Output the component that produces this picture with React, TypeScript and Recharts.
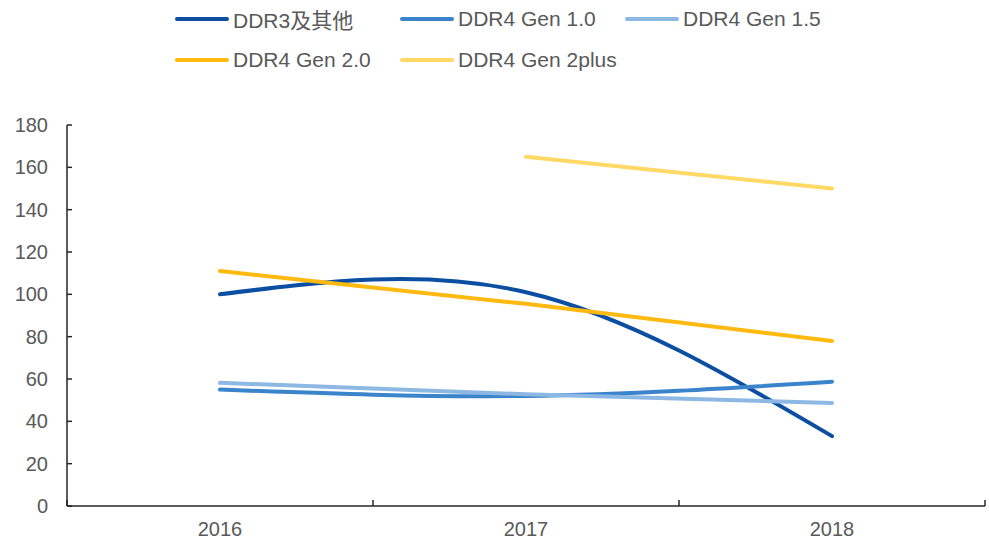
// DRAM price trend by generation - line chart

import { LineChart, Line, XAxis, YAxis } from 'recharts'

const years = ['2016', '2017', '2018']
const ddr3 = [100, 101, 33]
const ddr4Gen10 = [55, 52, 58.7]
const ddr4Gen15 = [58.2, 52.8, 48.7]
const ddr4Gen20 = [111, 95.5, 78]
const ddr4Gen2plus = [null, 165, 150]
const yTicks = [0, 20, 40, 60, 80, 100, 120, 140, 160, 180]

const series = [
  { key: 'ddr3', name: 'DDR3及其他', color: '#0b4ea2', values: ddr3 },
  { key: 'gen10', name: 'DDR4 Gen 1.0', color: '#3a84cc', values: ddr4Gen10 },
  { key: 'gen15', name: 'DDR4 Gen 1.5', color: '#8db8e4', values: ddr4Gen15 },
  { key: 'gen20', name: 'DDR4 Gen 2.0', color: '#ffb90f', values: ddr4Gen20 },
  { key: 'gen2plus', name: 'DDR4 Gen 2plus', color: '#ffd966', values: ddr4Gen2plus }
]

const chartData = years.map((year, i) => {
  const row: any = { idx: i, year }
  series.forEach(s => {
    row[s.key] = s.values[i]
  })
  return row
})

// boundaries get a tick mark, centres get the year label
const xTicks = [-0.5, 0, 0.5, 1, 1.5, 2, 2.5]
const FONT = '"Liberation Sans", Arial, "Noto Sans CJK SC", sans-serif'
const TEXT = '#595959'
const AXIS = '#262626'
const TICK_MARGIN = 16

const XTick = ({ x, y, payload }: any) => {
  const v = payload.value
  const axisY = y - TICK_MARGIN
  if (!Number.isInteger(v)) {
    return <line x1={x} x2={x} y1={axisY} y2={axisY - 6} stroke={AXIS} strokeWidth={1.5} />
  }
  return (
    <text x={x} y={y} dy="0.72em" textAnchor="middle" fill={TEXT} fontSize={20} fontFamily={FONT}>
      {years[v]}
    </text>
  )
}

const legendRows = [series.slice(0, 3), series.slice(3)]

export default function App() {
  return (
    <div style={{ position: 'absolute', left: 0, top: 0, width: 989, height: 542, background: '#fff' }}>
      {/* Legend */}
      <div style={{ position: 'absolute', left: 175, top: 5, fontFamily: FONT, fontSize: 21, color: TEXT }}>
        {legendRows.map((row, r) => (
          <div key={r} style={{ display: 'flex', height: 41 }}>
            {row.map(s => (
              <div key={s.key} style={{ display: 'flex', alignItems: 'center', width: 225, height: 28 }}>
                <div style={{ width: 54, height: 4, borderRadius: 2, background: s.color, marginRight: 4 }} />
                <span style={{ whiteSpace: 'nowrap' }}>{s.name}</span>
              </div>
            ))}
          </div>
        ))}
      </div>

      <LineChart
        width={989}
        height={542}
        data={chartData}
        margin={{ top: 125, right: 4, left: 0, bottom: 0 }}
        style={{ position: 'absolute', left: 0, top: 0 }}
      >
        <XAxis
          dataKey="idx"
          type="number"
          domain={[-0.5, 2.5]}
          ticks={xTicks}
          interval={0}
          height={36}
          tickSize={0}
          tickMargin={TICK_MARGIN}
          tickLine={false}
          tick={<XTick />}
          axisLine={{ stroke: AXIS, strokeWidth: 1.5 }}
        />
        <YAxis
          domain={[0, 180]}
          ticks={yTicks}
          interval={0}
          width={67}
          tickSize={-5}
          tickMargin={24}
          tick={{ fill: TEXT, fontSize: 20, fontFamily: FONT }}
          tickLine={{ stroke: AXIS, strokeWidth: 1.5 }}
          axisLine={{ stroke: AXIS, strokeWidth: 1.5 }}
        />
        {series.map(s => (
          <Line
            key={s.key}
            type="natural"
            dataKey={s.key}
            name={s.name}
            stroke={s.color}
            strokeWidth={4}
            strokeLinecap="round"
            dot={false}
            activeDot={false}
            isAnimationActive={false}
          />
        ))}
      </LineChart>
    </div>
  )
}
